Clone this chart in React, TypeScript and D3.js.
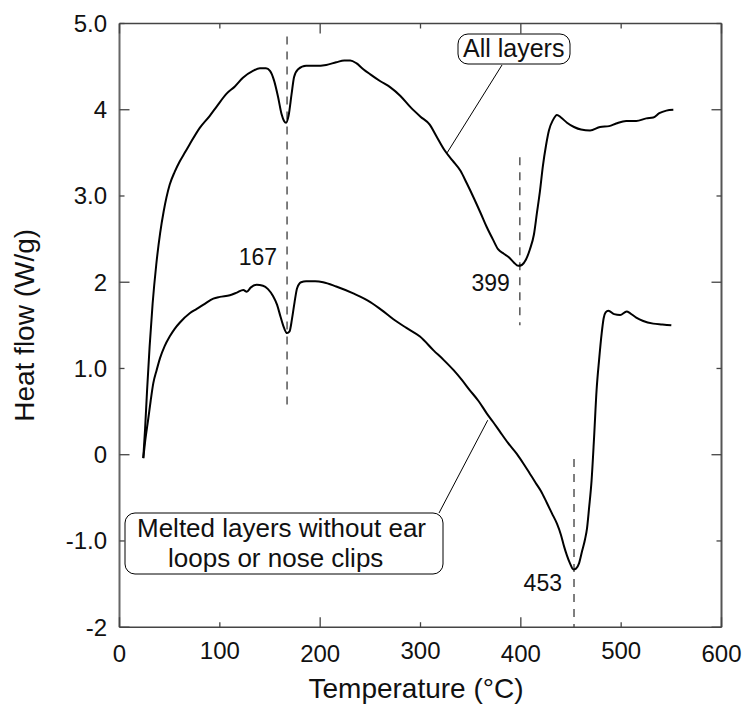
import React from "react";
import * as d3 from "d3";

// ---- Data ----
const allLayers: [number, number][] = [
  [23.7, -0.04], [25.5, 0.3], [27.5, 0.75], [30, 1.25], [33, 1.75], [36.6, 2.2], [40.5, 2.57], [44, 2.82],
  [50, 3.13], [55, 3.28], [60, 3.4], [65, 3.5], [70, 3.6], [80, 3.79], [90, 3.93], [97, 4.04], [107, 4.19], [115, 4.27],
  [123, 4.37], [133, 4.45], [140, 4.48], [146, 4.48], [150, 4.45], [154, 4.34], [158, 4.15], [161.5, 3.95],
  [164, 3.87], [166, 3.85], [168.5, 3.93], [171.5, 4.18], [174, 4.38], [178, 4.47], [186, 4.51], [195, 4.51],
  [206, 4.52], [216, 4.55], [224, 4.57], [230, 4.57], [236, 4.54], [243, 4.47], [250, 4.41], [260, 4.33],
  [270, 4.26], [280, 4.16], [290, 4.03], [300, 3.92], [309, 3.83], [316, 3.69], [324, 3.53], [332, 3.41],
  [340, 3.29], [346, 3.15], [353, 2.98], [360, 2.8], [366, 2.64], [372, 2.5], [377.5, 2.38], [383, 2.33],
  [388, 2.29], [393, 2.23], [397.5, 2.19], [401, 2.2], [405, 2.26], [409, 2.38], [413, 2.55], [416, 2.8],
  [419, 3.05], [422, 3.35], [425, 3.58], [428, 3.76], [432, 3.88], [436, 3.94], [440, 3.91], [446, 3.85],
  [453, 3.8], [460, 3.77], [469, 3.76], [479, 3.8], [488, 3.81], [495, 3.84], [505, 3.87], [515, 3.87],
  [525, 3.9], [532, 3.91], [538, 3.96], [545, 3.99], [552, 4.0],
];

const meltedLayers: [number, number][] = [
  [23.7, -0.04], [25.5, 0.15], [28.7, 0.42], [31, 0.62], [33.7, 0.83], [37, 0.98], [40.4, 1.12], [45, 1.26],
  [50, 1.37], [55, 1.46], [60, 1.53], [70, 1.64], [77, 1.69], [85, 1.75], [93.5, 1.81], [100, 1.83],
  [110, 1.85], [117, 1.88], [123.4, 1.91], [126.8, 1.89], [131, 1.94], [136.7, 1.97], [143, 1.96],
  [148, 1.92], [153, 1.84], [157, 1.74], [160.5, 1.6], [164, 1.47], [167, 1.41], [169.5, 1.43], [172, 1.58],
  [174.5, 1.77], [177, 1.93], [181, 2.0], [186, 2.01], [195, 2.01], [203, 2.0], [216, 1.95], [233, 1.87],
  [250, 1.77], [261, 1.68], [273, 1.57], [286, 1.47], [299.5, 1.37], [313, 1.21], [323, 1.1], [333, 0.98],
  [341, 0.87], [349, 0.75], [358, 0.62], [366, 0.48], [372, 0.385], [379, 0.27], [387, 0.14], [396, 0.01],
  [403, -0.11], [409, -0.22], [415, -0.33], [420, -0.42], [426, -0.56], [431, -0.68], [436, -0.8],
  [440, -0.93], [443, -1.06], [446, -1.17], [449, -1.26], [452.4, -1.33], [455, -1.32], [458, -1.26],
  [461, -1.12], [464, -0.98], [466, -0.85], [468, -0.62], [470.5, -0.3], [473, 0.2], [475.5, 0.75],
  [478, 1.1], [480.6, 1.41], [482.5, 1.58], [484.5, 1.65], [487.3, 1.67], [493, 1.63], [499, 1.62],
  [505.5, 1.66], [509, 1.64], [515, 1.59], [522, 1.55], [532, 1.52], [541, 1.51], [550, 1.5],
];

const xTickValues = [0, 100, 200, 300, 400, 500, 600];
const xTickLabels = ["0", "100", "200", "300", "400", "500", "600"];
const yTickValues = [5, 4, 3, 2, 1, 0, -1, -2];
const yTickLabels = ["5.0", "4", "3.0", "2", "1.0", "0", "-1.0", "-2"];

const peakTemps = [167, 399, 453];
const peakLabels = ["167", "399", "453"];
const peakRanges: [number, number][] = [[4.85, 0.5], [3.45, 1.5], [-0.05, -2]];
const peakLabelPos: [number, number][] = [[157, 2.2], [389, 1.9], [441, -1.58]];

const xLabel = "Temperature (°C)";
const yLabel = "Heat flow (W/g)";
const annoAll = "All layers";
const annoMelted = ["Melted layers without ear", "loops or nose clips"];

const FONT = "'Liberation Sans', Arial, Helvetica, sans-serif";

export default function App() {
  const x = d3.scaleLinear().domain([0, 600]).range([119.5, 721.5]);
  const y = d3.scaleLinear().domain([-2, 5]).range([627.2, 23.5]);
  const line = d3
    .line<[number, number]>()
    .x((d) => x(d[0]))
    .y((d) => y(d[1]))
    .curve(d3.curveMonotoneX);

  const x0 = x(0), x1 = x(600), yT = y(5), yB = y(-2);
  const axisColor = "#444";

  return (
    <svg
      width={743}
      height={705}
      style={{ position: "absolute", left: 0, top: 0, background: "#fff" }}
      fontFamily={FONT}
    >
      <rect x={0} y={0} width={743} height={705} fill="#fff" />

      {peakTemps.map((t, i) => (
        <line
          key={"pk" + i}
          x1={x(t)}
          x2={x(t)}
          y1={y(peakRanges[i][0])}
          y2={y(peakRanges[i][1])}
          stroke="#555"
          strokeWidth={1.5}
          strokeDasharray="8,7"
        />
      ))}
      {peakLabels.map((l, i) => (
        <text
          key={"pl" + i}
          x={x(peakLabelPos[i][0])}
          y={y(peakLabelPos[i][1])}
          fontSize={23}
          textAnchor="end"
          fill="#111"
        >
          {l}
        </text>
      ))}

      <path d={line(allLayers) || ""} fill="none" stroke="#000" strokeWidth={2} strokeLinejoin="round" />
      <path d={line(meltedLayers) || ""} fill="none" stroke="#000" strokeWidth={2} strokeLinejoin="round" />

      <line x1={x0} x2={x0} y1={yT} y2={yB} stroke="#666" strokeWidth={2} />
      <line x1={x0} x2={x1} y1={yB} y2={yB} stroke={axisColor} strokeWidth={1.5} />
      <line x1={x0} x2={x1} y1={yT} y2={yT} stroke={axisColor} strokeWidth={1.5} />
      <line x1={x1} x2={x1} y1={yT} y2={yB} stroke="#555" strokeWidth={2} />

      {xTickValues.map((v, i) => {
        const major = v % 200 === 0;
        const len = major ? 10 : 5;
        return (
          <g key={"xt" + i}>
            <line x1={x(v)} x2={x(v)} y1={yB} y2={yB - len} stroke={axisColor} strokeWidth={1.3} />
            <line x1={x(v)} x2={x(v)} y1={yT} y2={yT + len} stroke={axisColor} strokeWidth={1.3} />
            <text x={x(v)} y={major ? 662 : 659} fontSize={24} textAnchor="middle" fill="#111">
              {xTickLabels[i]}
            </text>
          </g>
        );
      })}

      {yTickValues.map((v, i) => {
        const major = v % 2 === 0;
        const len = major ? 10 : 5;
        return (
          <g key={"yt" + i}>
            <line x1={x0} x2={x0 + len} y1={y(v)} y2={y(v)} stroke={axisColor} strokeWidth={1.3} />
            <line x1={x1} x2={x1 - len} y1={y(v)} y2={y(v)} stroke={axisColor} strokeWidth={1.3} />
            <text x={107} y={y(v)} dy="0.35em" fontSize={24} textAnchor="end" fill="#111">
              {yTickLabels[i]}
            </text>
          </g>
        );
      })}

      <text x={416} y={698} fontSize={28} textAnchor="middle" fill="#111">
        {xLabel}
      </text>
      <text
        transform={`translate(34, ${(yT + yB) / 2}) rotate(-90)`}
        fontSize={28}
        textAnchor="middle"
        fill="#111"
      >
        {yLabel}
      </text>

      <line x1={502} y1={65} x2={x(326.5)} y2={y(3.5)} stroke="#000" strokeWidth={1} />
      <rect x={458} y={34} width={112} height={30} rx={10} ry={10} fill="#fff" stroke="#000" strokeWidth={1} />
      <text x={463} y={57} fontSize={25} fill="#111">
        {annoAll}
      </text>

      <line x1={439} y1={513} x2={x(367)} y2={y(0.4)} stroke="#000" strokeWidth={1} />
      <rect x={125} y={513} width={318} height={61} rx={10} ry={10} fill="#fff" stroke="#000" strokeWidth={1} />
      <text x={137} y={537} fontSize={26} fill="#111">
        {annoMelted[0]}
      </text>
      <text x={168} y={567} fontSize={26} fill="#111">
        {annoMelted[1]}
      </text>
    </svg>
  );
}
